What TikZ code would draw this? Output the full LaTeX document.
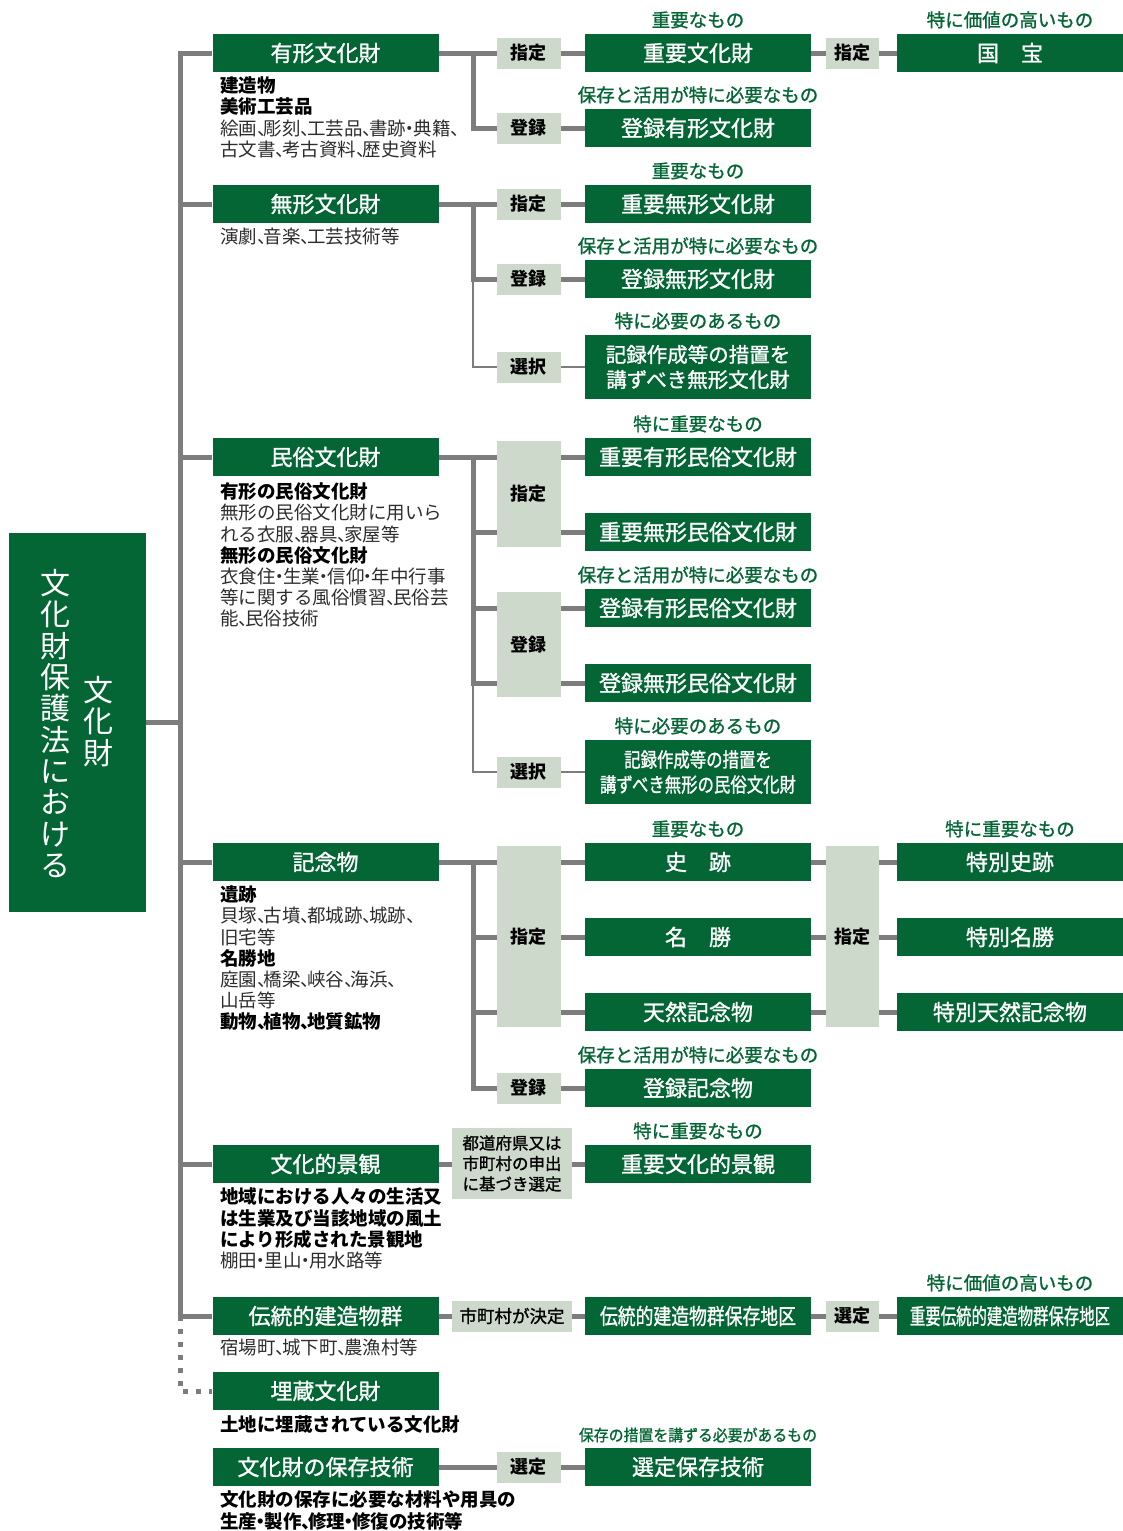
\documentclass[tikz,border=0pt]{standalone}
\usepackage{fontspec}
\usepackage{graphicx}
\usetikzlibrary{positioning}
\newfontfamily\jp{Noto Sans CJK JP}
\newfontfamily\jpm[FakeBold=1.2]{Noto Sans CJK JP}
\definecolor{dgreen}{RGB}{4,102,52}
\definecolor{tagfill}{RGB}{205,217,203}
\definecolor{lineg}{RGB}{125,125,125}
\definecolor{descg}{RGB}{45,45,45}
\newcommand\ten{\makebox[0.35em][l]{、}}
\newcommand\nak{\makebox[0.4em][c]{・}}
\newcommand\hd[1]{{\bfseries\color{black}#1}}

\begin{document}
\begin{tikzpicture}[x=1pt,y=-1pt,
	gbox/.style={fill=dgreen,text=white,minimum width=226pt,minimum height=38pt,inner sep=0pt,align=center,font=\jpm\fontsize{22}{25}\selectfont},
	tagbox/.style={fill=tagfill,text=black,minimum width=64pt,minimum height=31pt,inner sep=0pt,align=center,font=\jp\bfseries\fontsize{18}{21}\selectfont},
	lbl/.style={text=dgreen,inner sep=0pt,text height=16.3pt,text depth=2.2pt,font=\jpm\fontsize{18.5}{21}\selectfont},
	desc/.style={anchor=north west,inner sep=0pt,align=left,text=descg,font=\jp\fontsize{18.5}{21.2}\selectfont},
	vtxt/.style={text=white,inner sep=0pt,align=center,font=\jp\fontsize{30}{31.3}\selectfont},
	conn/.style={draw=lineg,line width=5pt},
	thinconn/.style={draw=lineg,line width=2.5pt},
	dotconn/.style={draw=lineg,line width=5pt,dash pattern=on 5pt off 8pt}]
	\useasboundingbox (0,0) rectangle (1123,1531);

	\node[fill=dgreen,minimum width=137pt,minimum height=379pt,inner sep=0pt] (law) at (77.5,722.5) {};
	\node[vtxt] (lawa) at (55,723.5) {文\\化\\財\\保\\護\\法\\に\\お\\け\\る};
	\node[vtxt] (lawb) at (98,721.5) {文\\化\\財};

	\node[gbox] (yukei) at (325.5,53) {有形文化財};
	\node[gbox] (mukei) at (325.5,204) {無形文化財};
	\node[gbox] (minzoku) at (325.5,457) {民俗文化財};
	\node[gbox] (kinen) at (325.5,862) {記念物};
	\node[gbox] (keikan) at (325.5,1164) {文化的景観};
	\node[gbox] (dento) at (325.5,1316) {伝統的建造物群};
	\node[gbox] (maizo) at (325.5,1391) {埋蔵文化財};
	\node[gbox] (gijutsu) at (325.5,1467) {文化財の保存技術};

	\node[desc] (yukei-d) at (220,76.75) {\hd{建造物}\\\hd{美術工芸品}\\絵画\ten 彫刻\ten 工芸品\ten 書跡\nak 典籍\ten\\古文書\ten 考古資料\ten 歴史資料};
	\node[desc] (mukei-d) at (220,227.75) {演劇\ten 音楽\ten 工芸技術等};
	\node[desc] (minzoku-d) at (220,482.75) {\hd{有形の民俗文化財}\\無形の民俗文化財に用いら\\れる衣服\ten 器具\ten 家屋等\\\hd{無形の民俗文化財}\\衣食住\nak 生業\nak 信仰\nak 年中行事\\等に関する風俗慣習\ten 民俗芸\\能\ten 民俗技術};
	\node[desc] (kinen-d) at (220,885.75) {\hd{遺跡}\\貝塚\ten 古墳\ten 都城跡\ten 城跡\ten\\旧宅等\\\hd{名勝地}\\庭園\ten 橋梁\ten 峡谷\ten 海浜\ten\\山岳等\\\hd{動物\ten 植物\ten 地質鉱物}};
	\node[desc] (keikan-d) at (220,1187.75) {\hd{地域における人々の生活又}\\\hd{は生業及び当該地域の風土}\\\hd{により形成された景観地}\\棚田\nak 里山\nak 用水路等};
	\node[desc] (dento-d) at (220,1338.75) {宿場町\ten 城下町\ten 農漁村等};
	\node[desc] (maizo-d) at (220,1415.75) {\hd{土地に埋蔵されている文化財}};
	\node[desc] (gijutsu-d) at (220,1490.75) {\hd{文化財の保存に必要な材料や用具の}\\\hd{生産\nak 製作\ten 修理\nak 修復の技術等}};

	\node[gbox] (jyubun) at (698,53) {重要文化財};
	\node[gbox] (toyukei) at (698,128) {登録有形文化財};
	\node[gbox] (jumukei) at (698,204) {重要無形文化財};
	\node[gbox] (tomukei) at (698,279) {登録無形文化財};
	\node[gbox,minimum height=64pt,font=\jpm\fontsize{20.5}{25}\selectfont] (kirokumu) at (698,367) {記録作成等の措置を\\講ずべき無形文化財};
	\node[gbox] (juyuminz) at (698,457) {重要有形民俗文化財};
	\node[gbox] (jumuminz) at (698,532) {重要無形民俗文化財};
	\node[gbox] (toyuminz) at (698,608) {登録有形民俗文化財};
	\node[gbox] (tomuminz) at (698,683) {登録無形民俗文化財};
	\node[gbox,minimum height=64pt,font=\jpm\fontsize{20}{25}\selectfont] (kirokuminz) at (698,772) {\scalebox{0.82}[1]{記録作成等の措置を}\\\scalebox{0.82}[1]{講ずべき無形の民俗文化財}};
	\node[gbox] (shiseki) at (698,862) {史　跡};
	\node[gbox] (meisho) at (698,937) {名　勝};
	\node[gbox] (tennen) at (698,1012) {天然記念物};
	\node[gbox] (tokinen) at (698,1088) {登録記念物};
	\node[gbox] (jukeikan) at (698,1164) {重要文化的景観};
	\node[gbox] (denken) at (698,1316) {\scalebox{0.81}[1]{伝統的建造物群保存地区}};
	\node[gbox] (senho) at (698,1467) {選定保存技術};

	\node[gbox] (kokuho) at (1010,53) {国　宝};
	\node[gbox] (tokushi) at (1010,862) {特別史跡};
	\node[gbox] (tokumei) at (1010,937) {特別名勝};
	\node[gbox] (tokuten) at (1010,1012) {特別天然記念物};
	\node[gbox] (jyudenken) at (1010,1316) {\scalebox{0.70}[1]{重要伝統的建造物群保存地区}};

	\node[lbl,above=4.5pt of jyubun] (jyubun-l) {重要なもの};
	\node[lbl,above=4.5pt of toyukei] (toyukei-l) {保存と活用が特に必要なもの};
	\node[lbl,above=4.5pt of jumukei] (jumukei-l) {重要なもの};
	\node[lbl,above=4.5pt of tomukei] (tomukei-l) {保存と活用が特に必要なもの};
	\node[lbl,above=4.5pt of kirokumu] (kirokumu-l) {特に必要のあるもの};
	\node[lbl,above=4.5pt of juyuminz] (juyuminz-l) {特に重要なもの};
	\node[lbl,above=4.5pt of toyuminz] (toyuminz-l) {保存と活用が特に必要なもの};
	\node[lbl,above=4.5pt of kirokuminz] (kirokuminz-l) {特に必要のあるもの};
	\node[lbl,above=4.5pt of shiseki] (shiseki-l) {重要なもの};
	\node[lbl,above=4.5pt of tokinen] (tokinen-l) {保存と活用が特に必要なもの};
	\node[lbl,above=4.5pt of jukeikan] (jukeikan-l) {特に重要なもの};
	\node[lbl,above=4.5pt of senho,text height=14pt,text depth=2pt,font=\jpm\fontsize{16}{19}\selectfont] (senho-l) {\scalebox{0.93}[1]{保存の措置を講ずる必要があるもの}};
	\node[lbl,above=4.5pt of kokuho] (kokuho-l) {特に価値の高いもの};
	\node[lbl,above=4.5pt of tokushi] (tokushi-l) {特に重要なもの};
	\node[lbl,above=4.5pt of jyudenken] (jyudenken-l) {特に価値の高いもの};

	\coordinate (trunk) at (180,53);
	\coordinate (ykj) at (473,53);
	\coordinate (mkj) at (473,204);
	\coordinate (mzj) at (473,457);
	\coordinate (knj) at (473,862);

	\draw[conn] (law.east) -- (law.east -| trunk);
	\draw[conn] (yukei.west) -| (trunk |- dento.west) -- (dento.west);
	\draw[conn] (trunk |- mukei.west) -- (mukei.west);
	\draw[conn] (trunk |- minzoku.west) -- (minzoku.west);
	\draw[conn] (trunk |- kinen.west) -- (kinen.west);
	\draw[conn] (trunk |- keikan.west) -- (keikan.west);
	\draw[dotconn] (trunk |- dento.west) |- (maizo.west);

	\draw[conn] (yukei.east) -- (jyubun.west);
	\draw[conn] (ykj) |- (toyukei.west);
	\draw[conn] (jyubun.east) -- (kokuho.west);

	\draw[conn] (mukei.east) -- (jumukei.west);
	\draw[conn] (mkj) |- (tomukei.west);
	\draw[thinconn] (mkj |- tomukei.west) |- (kirokumu.west);

	\draw[conn] (minzoku.east) -- (juyuminz.west);
	\draw[conn] (mzj) |- (jumuminz.west);
	\draw[conn] (mzj) |- (toyuminz.west);
	\draw[conn] (mzj) |- (tomuminz.west);
	\draw[thinconn] (mzj |- tomuminz.west) |- (kirokuminz.west);

	\draw[conn] (kinen.east) -- (shiseki.west);
	\draw[conn] (knj) |- (meisho.west);
	\draw[conn] (knj) |- (tennen.west);
	\draw[conn] (knj) |- (tokinen.west);
	\draw[conn] (shiseki.east) -- (tokushi.west);
	\draw[conn] (meisho.east) -- (tokumei.west);
	\draw[conn] (tennen.east) -- (tokuten.west);

	\draw[conn] (keikan.east) -- (jukeikan.west);
	\draw[conn] (dento.east) -- (denken.west);
	\draw[conn] (denken.east) -- (jyudenken.west);
	\draw[conn] (gijutsu.east) -- (senho.west);

	\node[tagbox] (yk-sitei) at (528.5,53) {指定};
	\node[tagbox] (yk-toroku) at (528.5,128) {登録};
	\node[tagbox] (mk-sitei) at (528.5,204) {指定};
	\node[tagbox] (mk-toroku) at (528.5,279) {登録};
	\node[tagbox] (mk-sentaku) at (528.5,367) {選択};
	\node[tagbox,minimum height=106pt] (mz-sitei) at (528.5,494) {指定};
	\node[tagbox,minimum height=105pt] (mz-toroku) at (528.5,644.5) {登録};
	\node[tagbox] (mz-sentaku) at (528.5,772) {選択};
	\node[tagbox,minimum height=181pt] (kn-sitei) at (528.5,936.5) {指定};
	\node[tagbox] (kn-toroku) at (528.5,1088) {登録};
	\node[tagbox,minimum width=120pt,minimum height=71pt,font=\jpm\fontsize{16.5}{20.5}\selectfont] (kk-sentei) at (512,1163.5) {都道府県又は\\市町村の申出\\に基づき選定};
	\node[tagbox,minimum width=120pt,font=\jpm\fontsize{17.5}{21}\selectfont] (dk-kettei) at (512,1316) {市町村が決定};
	\node[tagbox] (gj-sentei) at (528.5,1467) {選定};

	\node[tagbox,minimum width=53pt] (kh-sitei) at (852.5,53) {指定};
	\node[tagbox,minimum width=53pt,minimum height=181pt] (tk-sitei) at (852.5,936.5) {指定};
	\node[tagbox,minimum width=53pt] (jd-sentei) at (852.5,1316) {選定};
\end{tikzpicture}
\end{document}
